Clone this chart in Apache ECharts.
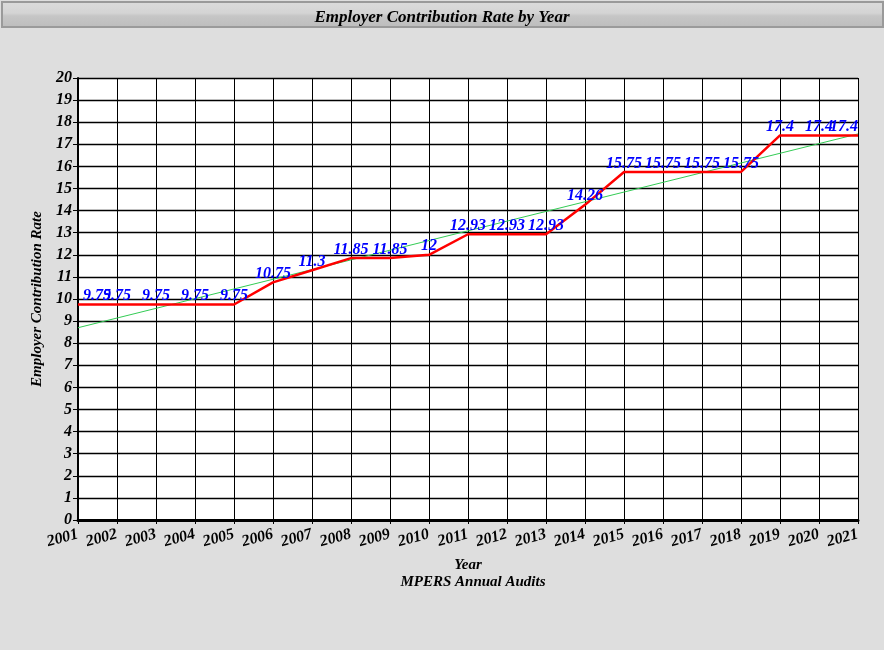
<!DOCTYPE html>
<html>
<head>
<meta charset="utf-8">
<script src="https://cdn.jsdelivr.net/npm/echarts@6/dist/echarts.min.js"></script>
<style>
html,body{margin:0;padding:0;background:#dedede;}
#c{width:884px;height:650px;}
</style>
</head>
<body>
<div id="c"></div>
<script>
const years = [2001,2002,2003,2004,2005,2006,2007,2008,2009,2010,2011,2012,2013,2014,2015,2016,2017,2018,2019,2020,2021];
const rates = [9.75,9.75,9.75,9.75,9.75,10.75,11.3,11.85,11.85,12,12.93,12.93,12.93,14.26,15.75,15.75,15.75,15.75,17.4,17.4,17.4];
const trendYears = [2001, 2021];
const trendValues = [8.7, 17.47];
const chartTitle = 'Employer Contribution Rate by Year';
const xName = 'Year';
const yName = 'Employer Contribution Rate';
const sourceText = 'MPERS Annual Audits';

const FONT = '"Liberation Serif", "DejaVu Serif", serif';
const chart = echarts.init(document.getElementById('c'));
const gridLeft = 78, gridRight = 26, W = 884;

chart.setOption({
  backgroundColor: '#dedede',
  animation: false,
  graphic: [
    {
      type: 'rect', left: 1, top: 1, z: 0,
      shape: { width: 881, height: 25 },
      style: {
        fill: new echarts.graphic.LinearGradient(0, 0, 0, 1, [
          { offset: 0, color: '#dcdcdc' },
          { offset: 0.45, color: '#d4d4d4' },
          { offset: 0.55, color: '#c6c6c6' },
          { offset: 1, color: '#bcbcbc' }
        ]),
        stroke: '#9a9a9a', lineWidth: 2
      }
    }
  ],
  title: [
    {
      text: chartTitle, left: 'center', top: 4,
      textStyle: { fontFamily: FONT, fontStyle: 'italic', fontWeight: 'bold', fontSize: 17, color: '#000' }
    },
    {
      text: sourceText, left: 468, textAlign: 'center', top: 570,
      textStyle: { fontFamily: FONT, fontStyle: 'italic', fontWeight: 'bold', fontSize: 15, color: '#000' }
    }
  ],
  grid: { left: gridLeft, right: gridRight, top: 78, bottom: 130, show: true, backgroundColor: '#fff', borderWidth: 0 },
  xAxis: {
    type: 'value', min: 2001, max: 2021, interval: 1,
    name: xName, nameLocation: 'middle', nameGap: 38,
    nameTextStyle: { fontFamily: FONT, fontStyle: 'italic', fontWeight: 'bold', fontSize: 15, color: '#000' },
    axisLine: { show: true, lineStyle: { color: '#000', width: 3 } },
    axisTick: { show: true, length: 4, lineStyle: { color: '#000', width: 1 } },
    axisLabel: { rotate: 15, margin: 14, fontFamily: FONT, fontStyle: 'italic', fontWeight: 'bold', fontSize: 16, color: '#000', formatter: v => String(v) },
    splitLine: { show: true, lineStyle: { color: '#000', width: 1 } }
  },
  yAxis: {
    type: 'value', min: 0, max: 20, interval: 1,
    name: yName, nameLocation: 'middle', nameGap: 31,
    nameTextStyle: { fontFamily: FONT, fontStyle: 'italic', fontWeight: 'bold', fontSize: 15, color: '#000' },
    axisLine: { show: true, lineStyle: { color: '#000', width: 2 } },
    axisTick: { show: true, length: 5, lineStyle: { color: '#000', width: 1 } },
    axisLabel: { margin: 6, fontFamily: FONT, fontStyle: 'italic', fontWeight: 'bold', fontSize: 16, color: '#000' },
    splitLine: { show: true, lineStyle: { color: '#000', width: 1.3 } }
  },
  series: [
    {
      type: 'line', name: 'trend', z: 2,
      data: trendYears.map((y, i) => [y, trendValues[i]]),
      symbol: 'none',
      lineStyle: { color: '#33cc55', width: 1 },
      silent: true
    },
    {
      type: 'line', name: 'rate', z: 3,
      data: years.map((y, i) => [y, rates[i]]),
      symbol: 'circle', symbolSize: 1, showSymbol: true,
      itemStyle: { color: 'rgba(0,0,0,0)' },
      lineStyle: { color: '#ff0000', width: 2.5 },
      label: {
        show: true, position: 'top', distance: 0,
        fontFamily: FONT, fontStyle: 'italic', fontWeight: 'bold', fontSize: 16, color: '#0000ff',
        formatter: p => String(p.value[1])
      },
      labelLayout: function (p) {
        const minX = gridLeft + 5;
        const maxX = W - gridRight;
        const r = p.labelRect;
        if (r.x < minX) return { dx: minX - r.x };
        if (r.x + r.width > maxX) return { dx: maxX - (r.x + r.width) };
        return {};
      }
    }
  ]
});
</script>
</body>
</html>
